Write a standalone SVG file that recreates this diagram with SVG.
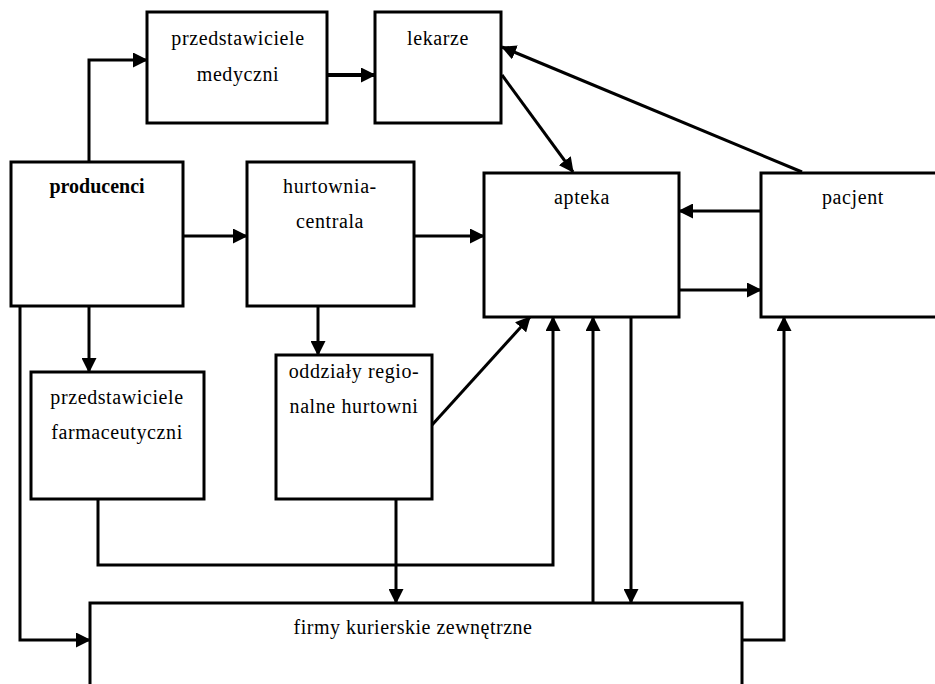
<svg xmlns="http://www.w3.org/2000/svg" width="935" height="684" viewBox="0 0 935 684">
  <style>
    .box { fill: #fff; stroke: #000; stroke-width: 3; }
    .lbl { font-family: 'Liberation Serif', 'DejaVu Serif', 'Times New Roman', Times, serif; font-size: 20px; letter-spacing: 0.6px; fill: #000; text-anchor: middle; }
    .bold { font-weight: bold; letter-spacing: 0; }
    .wire { fill: none; stroke: #000; stroke-width: 3; marker-end: url(#head); }
  </style>
  <defs>
    <marker id="head" viewBox="0 0 15 15" refX="14" refY="7.5" markerWidth="15" markerHeight="15" markerUnits="userSpaceOnUse" orient="auto">
      <path d="M0,0 L15,7.5 L0,15 z" fill="#000"/>
    </marker>
  </defs>
  <rect width="935" height="684" fill="#fff"/>

  <!-- connectors -->
  <g id="connectors">
    <path class="wire" d="M89,162 V60 H147"/>
    <path class="wire" d="M327,75 H375" style="stroke-width:4"/>
    <path class="wire" d="M502,75 L573,172"/>
    <path class="wire" d="M802,172 L502,47"/>
    <path class="wire" d="M761,211 H679"/>
    <path class="wire" d="M679,290 H761"/>
    <path class="wire" d="M183,236 H247"/>
    <path class="wire" d="M414,236 H484"/>
    <path class="wire" d="M89,306 V372"/>
    <path class="wire" d="M318,306 V355"/>
    <path class="wire" d="M432,425 L530,317"/>
    <path class="wire" d="M98,499 V565 H553 V317"/>
    <path class="wire" d="M396,499 V603"/>
    <path class="wire" d="M593,603 V317"/>
    <path class="wire" d="M631,317 V603"/>
    <path class="wire" d="M742,640 H784 V317"/>
    <path class="wire" d="M20,306 V640 H90"/>
  </g>

  <g id="przedstawiciele-medyczni">
    <rect class="box" x="147" y="12" width="180" height="111"/>
    <text class="lbl" x="238" y="45">przedstawiciele</text>
    <text class="lbl" x="238" y="81">medyczni</text>
  </g>
  <g id="lekarze">
    <rect class="box" x="375" y="12" width="126" height="111"/>
    <text class="lbl" x="438" y="45">lekarze</text>
  </g>
  <g id="producenci">
    <rect class="box" x="11" y="162" width="172" height="144"/>
    <text class="lbl bold" x="97" y="193">producenci</text>
  </g>
  <g id="hurtownia-centrala">
    <rect class="box" x="247" y="162" width="167" height="144"/>
    <text class="lbl" x="330" y="193">hurtownia-</text>
    <text class="lbl" x="330" y="228">centrala</text>
  </g>
  <g id="apteka">
    <rect class="box" x="484" y="173" width="195" height="144"/>
    <text class="lbl" x="582" y="204">apteka</text>
  </g>
  <g id="pacjent">
    <rect class="box" x="761" y="173" width="200" height="144"/>
    <text class="lbl" x="853" y="204">pacjent</text>
  </g>
  <g id="przedstawiciele-farmaceutyczni">
    <rect class="box" x="31" y="372" width="173" height="127"/>
    <text class="lbl" x="117" y="404">przedstawiciele</text>
    <text class="lbl" x="117" y="439">farmaceutyczni</text>
  </g>
  <g id="oddzialy-regionalne">
    <rect class="box" x="276" y="355" width="156" height="144"/>
    <text class="lbl" x="354" y="378">oddziały regio-</text>
    <text class="lbl" x="354" y="413">nalne hurtowni</text>
  </g>
  <g id="firmy-kurierskie">
    <rect class="box" x="90" y="603" width="652" height="110"/>
    <text class="lbl" x="413" y="634" style="letter-spacing:0.5px">firmy kurierskie zewnętrzne</text>
  </g>
</svg>
